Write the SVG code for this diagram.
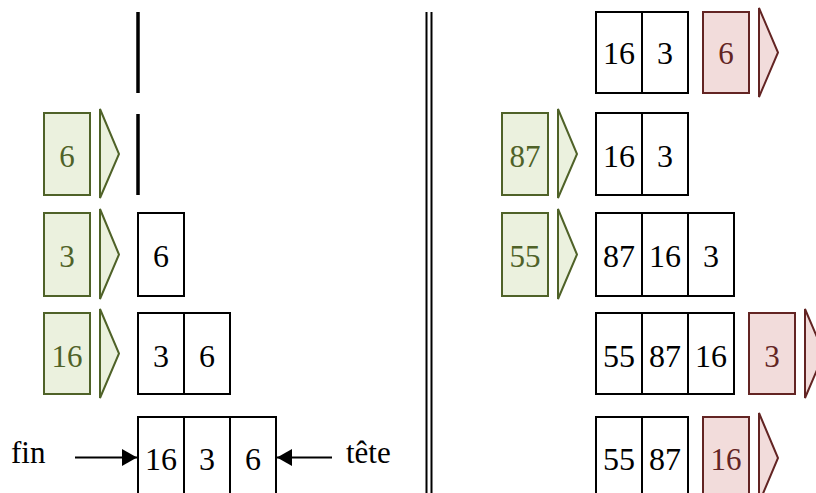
<svg xmlns="http://www.w3.org/2000/svg" width="816" height="493" viewBox="0 0 816 493">
<style>
.cell{fill:#fff;stroke:#000;stroke-width:2}
.gbox{fill:#EBF1DE;stroke:#4F6228;stroke-width:2}
.rbox{fill:#F2DCDB;stroke:#632423;stroke-width:2}
.t{font-family:"Liberation Serif","Times New Roman",serif;font-size:32px;text-anchor:middle;fill:#000}
.tg{font-family:"Liberation Serif","Times New Roman",serif;font-size:31px;text-anchor:middle;fill:#4F6228}
.tr{font-family:"Liberation Serif","Times New Roman",serif;font-size:31px;text-anchor:middle;fill:#632423}
.lbl{font-family:"Liberation Serif","Times New Roman",serif;font-size:31px;fill:#000}
.bar{stroke:#000;stroke-width:3.5}
.sep{stroke:#000;stroke-width:2}
.conn{stroke:#000;stroke-width:2;fill:none}
</style>
<defs>
<marker id="ah" markerWidth="15" markerHeight="17" refX="15" refY="8.5" orient="auto" markerUnits="userSpaceOnUse">
<path d="M0,0 L15,8.5 L0,17 Z" fill="#000"/>
</marker>
</defs>

<!-- separator -->
<g id="separator">
<line class="sep" x1="426.5" y1="12" x2="426.5" y2="493"/>
<line class="sep" x1="431.5" y1="12" x2="431.5" y2="493"/>
</g>

<!-- LEFT COLUMN -->
<g id="L1-empty">
<line class="bar" x1="138" y1="12" x2="138" y2="93"/>
</g>

<g id="L2-in6">
<rect class="gbox" x="44" y="113" width="46" height="82"/>
<text class="tg" x="67" y="167">6</text>
<polygon class="gbox" points="100,109 119,154 100,198"/>
</g>
<g id="L2-empty">
<line class="bar" x1="138" y1="114" x2="138" y2="195"/>
</g>

<g id="L3-in3">
<rect class="gbox" x="44" y="213" width="46" height="83"/>
<text class="tg" x="67" y="267">3</text>
<polygon class="gbox" points="100,209 119,254.5 100,299"/>
</g>
<g id="L3-queue">
<rect class="cell" x="138" y="213" width="46" height="83"/>
<text class="t" x="161" y="267">6</text>
</g>

<g id="L4-in16">
<rect class="gbox" x="44" y="313" width="46" height="81"/>
<text class="tg" x="67" y="366.5">16</text>
<polygon class="gbox" points="100,309 119,353.5 100,398"/>
</g>
<g id="L4-queue">
<rect class="cell" x="138" y="313" width="46" height="81"/>
<rect class="cell" x="184" y="313" width="46" height="81"/>
<text class="t" x="161" y="366.5">3</text>
<text class="t" x="207" y="366.5">6</text>
</g>

<g id="L5-queue">
<rect class="cell" x="138" y="417" width="46" height="82"/>
<rect class="cell" x="184" y="417" width="46" height="82"/>
<rect class="cell" x="230" y="417" width="46" height="82"/>
<text class="t" x="161" y="469.5">16</text>
<text class="t" x="207" y="469.5">3</text>
<text class="t" x="253" y="469.5">6</text>
</g>
<g id="label-fin"><text class="lbl" x="11" y="463">fin</text></g>
<g id="label-tete"><text class="lbl" x="346" y="463">tête</text></g>

<g id="connectors">
<line class="conn" x1="75" y1="457.5" x2="137" y2="457.5" marker-end="url(#ah)"/>
<line class="conn" x1="332" y1="457.5" x2="277" y2="457.5" marker-end="url(#ah)"/>
</g>

<!-- RIGHT COLUMN -->
<g id="R1-queue">
<rect class="cell" x="596" y="12" width="46" height="81"/>
<rect class="cell" x="642" y="12" width="46" height="81"/>
<text class="t" x="619" y="64">16</text>
<text class="t" x="665" y="64">3</text>
</g>
<g id="R1-out6">
<rect class="rbox" x="703" y="12" width="46" height="81"/>
<text class="tr" x="726" y="64">6</text>
<polygon class="rbox" points="759,8 778,52.5 759,97"/>
</g>

<g id="R2-in87">
<rect class="gbox" x="502" y="113" width="46" height="82"/>
<text class="tg" x="525" y="167">87</text>
<polygon class="gbox" points="558,109 577,154 558,198"/>
</g>
<g id="R2-queue">
<rect class="cell" x="596" y="113" width="46" height="82"/>
<rect class="cell" x="642" y="113" width="46" height="82"/>
<text class="t" x="619" y="166.5">16</text>
<text class="t" x="665" y="166.5">3</text>
</g>

<g id="R3-in55">
<rect class="gbox" x="502" y="213" width="46" height="83"/>
<text class="tg" x="525" y="267">55</text>
<polygon class="gbox" points="558,209 577,254.5 558,299"/>
</g>
<g id="R3-queue">
<rect class="cell" x="596" y="213" width="46" height="83"/>
<rect class="cell" x="642" y="213" width="46" height="83"/>
<rect class="cell" x="688" y="213" width="46" height="83"/>
<text class="t" x="619" y="267">87</text>
<text class="t" x="665" y="267">16</text>
<text class="t" x="711" y="267">3</text>
</g>

<g id="R4-queue">
<rect class="cell" x="596" y="313" width="46" height="81"/>
<rect class="cell" x="642" y="313" width="46" height="81"/>
<rect class="cell" x="688" y="313" width="46" height="81"/>
<text class="t" x="619" y="366.5">55</text>
<text class="t" x="665" y="366.5">87</text>
<text class="t" x="711" y="366.5">16</text>
</g>
<g id="R4-out3">
<rect class="rbox" x="749" y="313" width="46" height="81"/>
<text class="tr" x="772" y="366.5">3</text>
<polygon class="rbox" points="805,309 824,353.5 805,398"/>
</g>

<g id="R5-queue">
<rect class="cell" x="596" y="417" width="46" height="82"/>
<rect class="cell" x="642" y="417" width="46" height="82"/>
<text class="t" x="619" y="469.5">55</text>
<text class="t" x="665" y="469.5">87</text>
</g>
<g id="R5-out16">
<rect class="rbox" x="703" y="417" width="46" height="82"/>
<text class="tr" x="726" y="469.5">16</text>
<polygon class="rbox" points="759,413 778,458 759,503"/>
</g>
</svg>
